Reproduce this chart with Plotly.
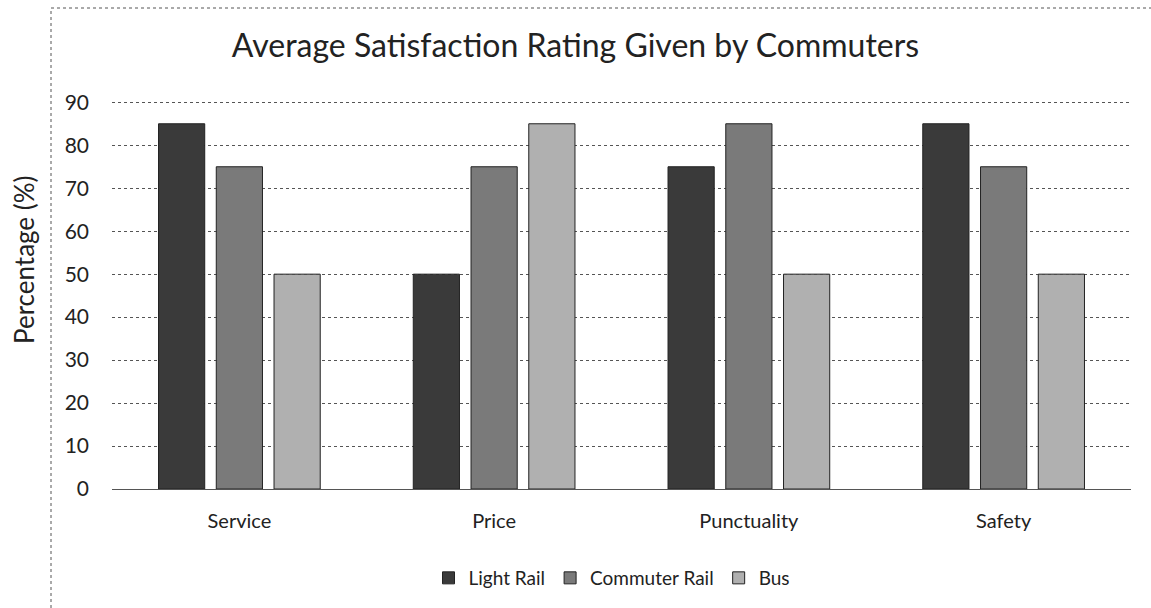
import plotly.graph_objects as go

categories = ["Service", "Price", "Punctuality", "Safety"]
light_rail = [85, 50, 75, 85]
commuter_rail = [75, 75, 85, 75]
bus = [50, 85, 50, 50]
series_names = ["Light Rail", "Commuter Rail", "Bus"]
y_ticks = [0, 10, 20, 30, 40, 50, 60, 70, 80, 90]

colors = ["#3a3a3a", "#7a7a7a", "#b0b0b0"]
FONT = "Lato, Open Sans, sans-serif"

L, R, T, B = 112, 20, 98, 119
W, H = 1151, 608
PW, PH = W - L - R, H - T - B

def px(x):
    return (x - L) / PW

def py(y):
    return (H - B - y) / PH

fig = go.Figure()
for name, vals, c in zip(series_names, [light_rail, commuter_rail, bus], colors):
    fig.add_trace(go.Bar(
        x=categories, y=vals, name=name,
        marker=dict(color=c, line=dict(color="#222222", width=1)),
    ))

fig.update_layout(
    width=W, height=H,
    paper_bgcolor="white", plot_bgcolor="white",
    margin=dict(l=L, r=R, t=T, b=B, autoexpand=False),
    barmode="group", bargap=0.32, bargroupgap=0.2,
    font=dict(family=FONT, color="#222222", size=20),
    title=dict(text="Average Satisfaction Rating Given by Commuters",
               x=0.5, xref="container", xanchor="center", y=1 - 46 / H, yref="container",
               yanchor="middle",
               font=dict(size=32, family=FONT, color="#222222")),
    legend=dict(orientation="h", x=px(612), xanchor="center", y=py(578), yanchor="middle",
                font=dict(size=19, family=FONT), traceorder="normal"),
    showlegend=True,
)
fig.update_xaxes(showgrid=False, showline=False, ticks="", ticklabelstandoff=18,
                 tickfont=dict(size=20, family=FONT))
fig.update_yaxes(range=[0, 91], tickvals=y_ticks, showgrid=True, gridcolor="#555555",
                 gridwidth=1, griddash="dot", zeroline=True, zerolinecolor="#555555",
                 zerolinewidth=1, showline=False, ticks="", ticklabelstandoff=22,
                 tickfont=dict(size=21, family=FONT))

# y-axis title placed as in the reference (left of the border line)
fig.add_annotation(text="Percentage (%)", xref="paper", yref="paper",
                   x=px(24), y=py(260), xanchor="center", yanchor="middle",
                   textangle=-90, showarrow=False, font=dict(size=26, family=FONT, color="#222222"))

# outer dashed border (left and top)
fig.add_shape(type="line", xref="paper", yref="paper", x0=px(51), x1=px(51), y0=py(H), y1=py(8),
              line=dict(color="#555555", width=1, dash="dot"))
fig.add_shape(type="line", xref="paper", yref="paper", x0=px(51), x1=px(W), y0=py(8), y1=py(8),
              line=dict(color="#555555", width=1, dash="dot"))

fig.write_html("out.html", config={"displayModeBar": False},
               post_script="document.body.style.margin='0';")
